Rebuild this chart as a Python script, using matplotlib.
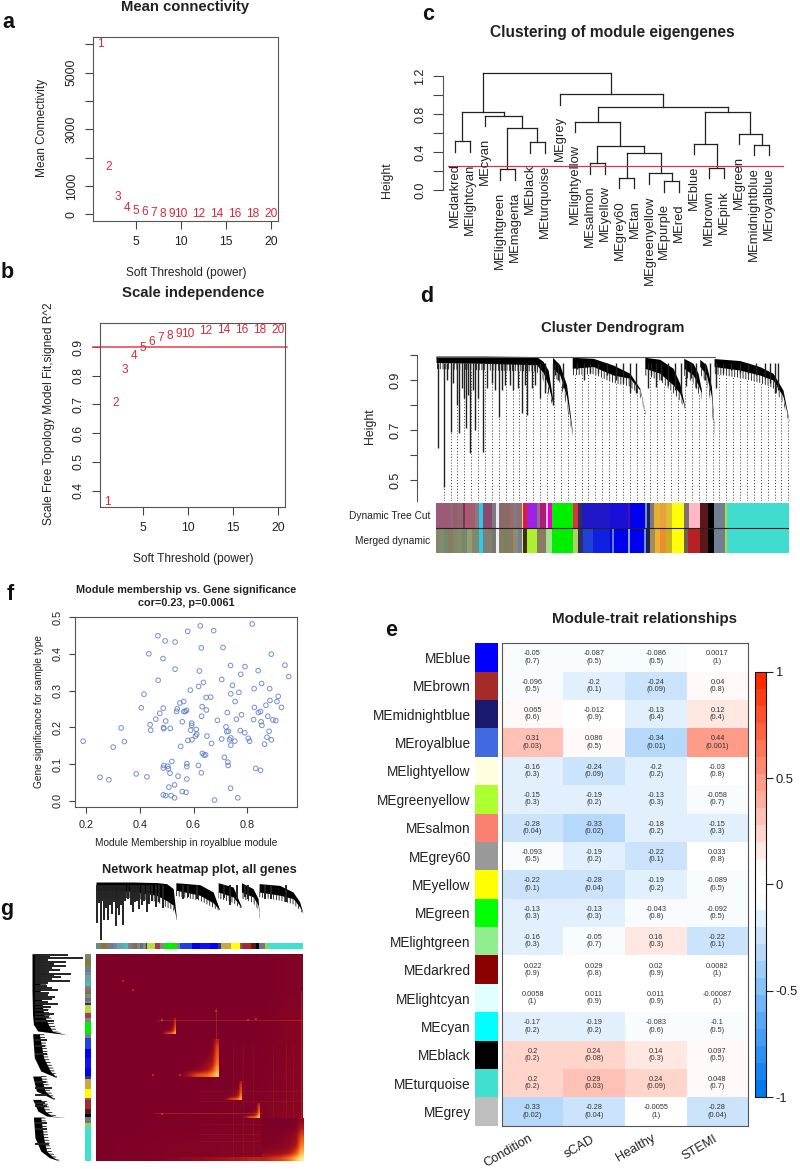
import matplotlib
matplotlib.use('Agg')
import matplotlib.pyplot as plt
import numpy as np
from matplotlib.colors import LinearSegmentedColormap, Normalize
from matplotlib.cm import ScalarMappable

plt.rcParams['font.family'] = ['Liberation Sans', 'DejaVu Sans']
plt.rcParams['text.color'] = '#222222'
plt.rcParams['axes.edgecolor'] = '#555555'
plt.rcParams['axes.labelcolor'] = '#222222'
plt.rcParams['xtick.color'] = '#444444'
plt.rcParams['ytick.color'] = '#444444'
plt.rcParams['xtick.labelcolor'] = '#222222'
plt.rcParams['ytick.labelcolor'] = '#222222'
plt.rcParams['hatch.linewidth'] = 0.6

W, H = 800, 1169

# panels a, b: soft threshold
powers = [1, 2, 3, 4, 5, 6, 7, 8, 9, 10, 12, 14, 16, 18, 20]
mean_conn = [6010, 1680, 600, 235, 130, 70, 35, 24, 12, 12, 5, 5, 5, 5, 5]
r2_fit = [0.36, 0.704, 0.82, 0.87, 0.898, 0.917, 0.932, 0.938, 0.946, 0.946,
          0.956, 0.959, 0.96, 0.958, 0.958]

# panel c: eigengene tree
me_leaves = ['MEdarkred', 'MElightcyan', 'MEcyan', 'MElightgreen', 'MEmagenta', 'MEblack',
             'MEturquoise', 'MEgrey', 'MElightyellow', 'MEsalmon', 'MEyellow', 'MEgrey60',
             'MEtan', 'MEgreenyellow', 'MEpurple', 'MEred', 'MEblue', 'MEbrown', 'MEpink',
             'MEgreen', 'MEmidnightblue', 'MEroyalblue']
# a merge refers to a leaf name or to an earlier merge by its index
me_merges = [('MEdarkred', 'MElightcyan', 0.514),   # 0
             ('MElightgreen', 'MEmagenta', 0.22),   # 1
             ('MEblack', 'MEturquoise', 0.504),     # 2
             (1, 2, 0.651),                         # 3
             ('MEcyan', 3, 0.784),                  # 4
             (0, 4, 0.819),                         # 5
             ('MEsalmon', 'MEyellow', 0.283),       # 6
             ('MEgrey60', 'MEtan', 0.129),          # 7
             ('MEpurple', 'MEred', 0.094),          # 8
             ('MEgreenyellow', 8, 0.178),           # 9
             (7, 9, 0.395),                         # 10
             (6, 10, 0.462),                        # 11
             ('MElightyellow', 11, 0.721),          # 12
             ('MEbrown', 'MEpink', 0.234),          # 13
             ('MEblue', 13, 0.49),                  # 14
             ('MEmidnightblue', 'MEroyalblue', 0.476),  # 15
             ('MEgreen', 15, 0.595),                # 16
             (14, 16, 0.819),                       # 17
             (12, 17, 0.871),                       # 18
             ('MEgrey', 18, 1.008),                 # 19
             (5, 19, 1.228)]                        # 20

# panel d: gene tree outline, rank / top / bottom of each black branch
d_rank = [[288, 430, 590, 610, 625, 640],
          [638, 660, 680, 698],
          [697, 760, 820, 870, 900, 917],
          [915, 960, 1000, 1020, 1035],
          [1032, 1060, 1075, 1085],
          [1080, 1100, 1115, 1125],
          [1123, 1200, 1260, 1300, 1330, 1348]]
d_top = [[0.997, 0.997, 0.995, 0.975, 0.94, 0.81],
         [0.992, 0.961, 0.881, 0.688],
         [0.992, 0.988, 0.961, 0.928, 0.868, 0.768],
         [0.992, 0.984, 0.948, 0.888, 0.795],
         [0.988, 0.968, 0.928, 0.861],
         [0.984, 0.961, 0.875, 0.675],
         [0.987, 0.979, 0.955, 0.928, 0.861, 0.739]]
d_bot = [[0.971, 0.968, 0.962, 0.93, 0.88, 0.80],
         [0.948, 0.921, 0.835, 0.681],
         [0.948, 0.955, 0.921, 0.908, 0.861, 0.765],
         [0.948, 0.928, 0.881, 0.848, 0.792],
         [0.948, 0.921, 0.881, 0.848],
         [0.955, 0.921, 0.835, 0.672],
         [0.955, 0.941, 0.921, 0.901, 0.835, 0.736]]
d_fringe = [[0.945, 0.94, 0.935, 0.90, 0.85, 0.79],
            [0.92, 0.89, 0.80, 0.675],
            [0.92, 0.925, 0.89, 0.875, 0.84, 0.76],
            [0.92, 0.90, 0.85, 0.82, 0.785],
            [0.92, 0.89, 0.85, 0.825],
            [0.925, 0.89, 0.80, 0.67],
            [0.925, 0.91, 0.89, 0.87, 0.81, 0.73]]
d_spike_rank = [293, 311, 333, 350, 358, 378, 391, 404, 428, 476, 547, 560, 600, 638, 733, 870,
                925, 950, 1040, 1130, 1305, 320, 340, 365, 372, 385, 398, 415, 440, 455, 465,
                485, 495, 510, 520, 535, 555, 575, 585, 615, 645, 655, 670, 710, 750, 775, 800,
                830, 850, 890, 935, 965, 985, 1005, 1025, 1055, 1070, 1095, 1110, 1150, 1175,
                1200, 1225, 1250, 1275, 1290, 1315]
d_spike_h = [0.63, 0.475, 0.695, 0.8, 0.688, 0.708, 0.608, 0.70, 0.615, 0.755, 0.768, 0.761,
             0.828, 0.80, 0.9, 0.848, 0.868, 0.875, 0.878, 0.868, 0.848, 0.90, 0.89, 0.87, 0.83,
             0.84, 0.86, 0.83, 0.87, 0.89, 0.86, 0.86, 0.88, 0.88, 0.86, 0.87, 0.88, 0.87, 0.88,
             0.85, 0.92, 0.90, 0.87, 0.945, 0.93, 0.93, 0.92, 0.90, 0.89, 0.85, 0.92, 0.90, 0.88,
             0.86, 0.85, 0.91, 0.87, 0.90, 0.86, 0.93, 0.94, 0.93, 0.925, 0.92, 0.91, 0.89, 0.86]

d_cut_edges = [288, 318, 330, 340, 354, 370, 376, 405, 418, 430, 455, 467, 477, 510, 520, 532, 545, 549, 560,
               590, 600, 618, 623, 637, 698, 713, 725, 810, 865, 872, 915, 922, 930, 942, 960, 978, 997,
               1032, 1048, 1080, 1105, 1123, 1155, 1163, 1348]
d_cut_colors = ['#9a5a78', '#a05a70', '#8a6a80', '#a05a70', '#8a6a70', '#8a2a60', '#a85a70', '#8a7a80', '#30c8e8',
                '#8a4a70', '#807880', '#e8e8f8', '#8a6a68', '#a06a60', '#807888', '#907070', '#e8d8b0', '#d82030',
                '#a020e8', '#8a7088', '#b0187a', '#e0c0e0', '#e800c8', '#00ee00', '#e03040', '#303050', '#2018c8',
                '#1810d8', '#5010a0', '#0000f0', '#7090e0', '#202050', '#807878', '#e8b030', '#e8a040', '#d8c030',
                '#ffff00', '#807070', '#ffb8c8', '#5a1818', '#000000', '#708090', '#b0d840', '#40dcd0']
d_merged_edges = [288, 300, 312, 325, 340, 352, 365, 380, 395, 418, 430, 445, 455, 467, 477, 490, 505, 520, 535,
                  545, 550, 560, 590, 618, 637, 698, 713, 730, 760, 810, 815, 822, 865, 872, 913, 920, 930, 945,
                  960, 980, 997, 1032, 1045, 1080, 1105, 1123, 1155, 1163, 1348]
d_merged_colors = ['#7c8a70', '#8a8a6a', '#708a70', '#8a7a60', '#7c8a70', '#8a8a6a', '#708a70', '#9a9a70', '#7c8a70',
                   '#30c8e8', '#7c8070', '#8a7a70', '#707a70', '#e8f0f8', '#8a7a60', '#7c8060', '#8a7a60', '#908a70',
                   '#70809a', '#e8e070', '#403010', '#adf030', '#8a7a60', '#a0e090', '#00ee00', '#b0d060', '#303060',
                   '#2040d8', '#1020e0', '#0000e0', '#6080e0', '#0000f0', '#90a8f0', '#0000f0', '#7090e0', '#202050',
                   '#a09058', '#f0b030', '#e89030', '#c8b020', '#ffff00', '#706050', '#b82028', '#5a1818', '#000000',
                   '#708090', '#b0d840', '#40dcd0']

# panel e: module-trait table, text as printed
e_modules = ['MEblue', 'MEbrown', 'MEmidnightblue', 'MEroyalblue', 'MElightyellow', 'MEgreenyellow',
             'MEsalmon', 'MEgrey60', 'MEyellow', 'MEgreen', 'MElightgreen', 'MEdarkred', 'MElightcyan',
             'MEcyan', 'MEblack', 'MEturquoise', 'MEgrey']
e_swatches = ['#0000ff', '#a52a2a', '#191970', '#4169e1', '#ffffe0', '#adff2f', '#fa8072', '#999999',
              '#ffff00', '#00ff00', '#90ee90', '#8b0000', '#e0ffff', '#00ffff', '#000000', '#40e0d0', '#bebebe']
e_traits = ['Condition', 'sCAD', 'Healthy', 'STEMI']
e_cor = [['-0.05', '-0.087', '-0.086', '0.0017'],
         ['-0.096', '-0.2', '-0.24', '0.04'],
         ['0.065', '-0.012', '-0.13', '0.12'],
         ['0.31', '0.086', '-0.34', '0.44'],
         ['-0.16', '-0.24', '-0.2', '-0.03'],
         ['-0.15', '-0.19', '-0.13', '-0.058'],
         ['-0.28', '-0.33', '-0.18', '-0.15'],
         ['-0.093', '-0.19', '-0.22', '0.033'],
         ['-0.22', '-0.28', '-0.19', '-0.089'],
         ['-0.13', '-0.13', '-0.043', '-0.092'],
         ['-0.16', '-0.05', '0.16', '-0.22'],
         ['0.022', '0.029', '0.02', '0.0082'],
         ['0.0058', '0.011', '0.011', '-0.00087'],
         ['-0.17', '-0.19', '-0.083', '-0.1'],
         ['0.2', '0.24', '0.14', '0.097'],
         ['0.2', '0.29', '0.24', '0.048'],
         ['-0.33', '-0.28', '-0.0055', '-0.28']]
e_p = [['0.7', '0.5', '0.5', '1'],
       ['0.5', '0.1', '0.09', '0.8'],
       ['0.6', '0.9', '0.4', '0.4'],
       ['0.03', '0.5', '0.01', '0.001'],
       ['0.3', '0.09', '0.2', '0.8'],
       ['0.3', '0.2', '0.3', '0.7'],
       ['0.04', '0.02', '0.2', '0.3'],
       ['0.5', '0.2', '0.1', '0.8'],
       ['0.1', '0.04', '0.2', '0.5'],
       ['0.3', '0.3', '0.8', '0.5'],
       ['0.3', '0.7', '0.3', '0.1'],
       ['0.9', '0.8', '0.9', '1'],
       ['1', '0.9', '0.9', '1'],
       ['0.2', '0.2', '0.6', '0.5'],
       ['0.2', '0.08', '0.3', '0.5'],
       ['0.2', '0.03', '0.09', '0.7'],
       ['0.02', '0.04', '1', '0.04']]

# panel f: membership vs significance
mm_x = [.188, .30, .342, .33, .251, .284, .386, .426, .415, .405, .433, .467, .494, .531, .578, .625, .675,
        .819, .629, .71, .89, .486, .531, .468, .622, .941, .955, .738, .792, .776, .841, .705, .745, .854,
        .884, .826, .637, .619, .588, .739, .769, .647, .664, .916, .885, .911, .87, .928, .755, .827, .549,
        .563, .487, .539, .537, .564, .574, .569, .474, .632, .648, .63, .726, .779, .76, .842, .85, .877,
        .824, .896, .907, .852, .855, .689, .459, .496, .558, .593, .593, .438, .44, .488, .489, .513, .589,
        .61, .721, .73, .724, .774, .791, .882, .874, .89, .804, .809, .865, .612, .607, .65, .594, .579,
        .667, .705, .739, .734, .754, .739, .552, .633, .639, .645, .715, .728, .729, .519, .489, .504, .487,
        .506, .512, .575, .575, .618, .542, .629, .575, .832, .85, .508, .529, .558, .572, .487, .496, .516,
        .529, .738, .765, .678]
gs_y = [.162, .146, .161, .198, .064, .057, .073, .065, .29, .253, .40, .449, .435, .432, .461, .476, .463,
        .481, .416, .417, .399, .387, .358, .328, .353, .369, .338, .368, .365, .344, .354, .33, .314, .319,
        .305, .305, .322, .311, .301, .291, .295, .281, .282, .284, .273, .27, .26, .254, .27, .254, .266,
        .27, .252, .25, .243, .243, .246, .243, .238, .256, .247, .23, .24, .234, .222, .24, .243, .23,
        .221, .22, .218, .215, .205, .219, .222, .217, .215, .211, .205, .207, .192, .199, .196, .197, .192,
        .194, .201, .189, .188, .191, .185, .189, .173, .166, .17, .162, .154, .181, .176, .176, .166, .164,
        .156, .168, .171, .166, .162, .151, .148, .129, .124, .125, .118, .105, .096, .107, .096, .094, .089,
        .087, .075, .101, .093, .096, .067, .076, .059, .088, .083, .037, .043, .025, .023, .016, .014, .014,
        .008, .034, .008, .002]

# panel g: tree shared by the top and left margins
g_rank = [[288, 400, 470, 500, 520, 530],
          [528, 600, 640, 660],
          [655, 700, 725],
          [725, 760, 775, 780],
          [778, 840, 880, 900, 910]]
g_top = [[1.0, 1.0, 0.995, 0.986, 0.943, 0.68],
         [0.994, 0.977, 0.914, 0.757],
         [0.994, 0.957, 0.786],
         [0.994, 0.943, 0.857, 0.671],
         [0.986, 0.971, 0.914, 0.829, 0.729]]
g_bot = [[0.929, 0.92, 0.885, 0.84, 0.80, 0.675],
         [0.929, 0.886, 0.82, 0.757],
         [0.914, 0.871, 0.78],
         [0.914, 0.871, 0.80, 0.671],
         [0.914, 0.886, 0.857, 0.786, 0.729]]
g_fringe = [[0.87, 0.86, 0.83, 0.78, 0.76, 0.67],
            [0.88, 0.84, 0.78, 0.75],
            [0.86, 0.82, 0.77],
            [0.86, 0.82, 0.76, 0.67],
            [0.87, 0.84, 0.81, 0.76, 0.725]]
g_spike_rank = [292, 302, 312, 325, 337, 348, 358, 370, 398, 418, 440, 468, 490, 297, 307, 318, 331, 343,
                352, 364, 376, 384, 392, 405, 412, 425, 432, 448, 456, 478, 548, 565, 590, 672, 690, 712,
                735, 745, 795, 815, 860]
g_spike_h = [0.643, 0.5, 0.669, 0.669, 0.726, 0.617, 0.714, 0.629, 0.743, 0.771, 0.743, 0.786, 0.78, 0.82,
             0.84, 0.78, 0.80, 0.83, 0.78, 0.80, 0.84, 0.85, 0.80, 0.83, 0.84, 0.80, 0.84, 0.81, 0.84, 0.83,
             0.85, 0.87, 0.85, 0.86, 0.80, 0.85, 0.87, 0.85, 0.85, 0.85, 0.83]
g_strip_edges = [288, 296, 304, 312, 322, 330, 342, 352, 362, 372, 385, 392, 402, 410, 420, 430, 437, 442, 465,
                 480, 492, 530, 540, 575, 600, 630, 655, 665, 695, 722, 728, 755, 768, 778, 795, 805, 910]
g_strip_colors = ['#6a8a8a', '#8a8060', '#7a7a50', '#8a7a30', '#808070', '#6a80a0', '#708aa0', '#70a0a8', '#60a8b0',
                  '#50b8c0', '#808080', '#8a7060', '#6a7080', '#8a8a60', '#6a6a90', '#8a8a70', '#303060', '#b0e040',
                  '#a04050', '#888880', '#00ee00', '#708888', '#2040e0', '#0000ee', '#1010f0', '#0000ff', '#333388',
                  '#c8a840', '#ffff00', '#806060', '#a52a2a', '#5a1a1a', '#000000', '#6a7a8a', '#a8d030', '#40e0d0']
# coarse background of the overlap map, rows top to bottom
tom_base = [[0, 0, 0, 0, 0, 0, 0, 0.03],
            [0, 0, 0, 0, 0, 0, 0, 0.03],
            [0, 0, 0, 0, 0, 0, 0.01, 0.05],
            [0, 0, 0, 0, 0, 0, 0.01, 0.05],
            [0, 0, 0, 0, 0, 0.01, 0.02, 0.06],
            [0, 0, 0.01, 0, 0, 0.02, 0.03, 0.06],
            [0, 0, 0.01, 0.01, 0.02, 0.03, 0.04, 0.08],
            [0.01, 0.02, 0.03, 0.04, 0.04, 0.05, 0.06, 0.1]]
tom_bottom = [[0.0, 0.02, 0.05, 0.08, 0.1, 0.15, 0.2, 0.25, 0.3]]
# module block, rows top to bottom, strongest towards the bottom right corner
tom_block = [[0, 0, 0, 0, 0, 0, .02, .32],
             [0, 0, 0, 0, 0, 0, .05, .45],
             [0, 0, 0, 0, 0, .02, .08, .5],
             [0, 0, 0, 0, .02, .05, .15, .55],
             [0, 0, 0, .02, .05, .1, .2, .6],
             [0, 0, .02, .05, .08, .15, .3, .68],
             [0, .03, .06, .1, .15, .25, .45, .8],
             [.1, .25, .4, .5, .55, .6, .75, .95]]
tom_corner = [[0, 0, 0, 0, 0, 0, .03, .1],
              [0, 0, 0, 0, .01, .02, .05, .2],
              [.01, .01, .01, .02, .03, .05, .1, .35],
              [.02, .02, .03, .03, .05, .08, .15, .5],
              [.03, .03, .04, .05, .08, .1, .2, .6],
              [.04, .05, .06, .08, .1, .15, .3, .7],
              [.08, .1, .12, .15, .2, .3, .5, .85],
              [.3, .35, .4, .45, .55, .65, .85, 1.0]]
block_x0 = [487, 550, 672, 730]
block_x1 = [528, 657, 725, 780]
block_y0 = [484, 544, 670, 737]
block_y1 = [530, 657, 726, 782]
block_peak = [0.85, 0.95, 0.85, 0.95]
tom_hlines = [487, 767, 700, 730, 800, 830, 850]
tom_hline_x0 = [470, 465, 600, 600, 600, 600, 600]
tom_hline_x1 = [910, 785, 910, 910, 780, 780, 780]
tom_hline_a = [0.3, 0.3, 0.1, 0.1, 0.1, 0.1, 0.1]
tom_vlines = [650, 905, 700, 730, 760, 820, 860, 880]
tom_vline_y0 = [450, 400, 560, 560, 560, 560, 560, 560]
tom_vline_y1 = [545, 780, 909, 909, 909, 780, 780, 780]
tom_vline_a = [0.3, 0.3, 0.1, 0.1, 0.1, 0.1, 0.1, 0.1]
spot_x = [368, 398, 650, 487, 460, 485, 745, 770, 540]
spot_y = [370, 397, 459, 487, 652, 770, 487, 484, 652]


def ax_px(x0, y0, x1, y1):
    return fig.add_axes([x0 / W, 1 - y1 / H, (x1 - x0) / W, (y1 - y0) / H])


def text_px(x, y, s, **kw):
    kw.setdefault('ha', 'center')
    kw.setdefault('va', 'center')
    return fig.text(x / W, 1 - y / H, s, **kw)


def threshold_panel(ax, values, xlim, ylim):
    for p, v in zip(powers, values):
        ax.text(p, v, str(p), color='#d42a3a', fontsize=8.6, ha='center', va='center')
    ax.set_xlim(xlim)
    ax.set_ylim(ylim)
    ax.set_xticks([5, 10, 15, 20])
    ax.tick_params(axis='x', length=6, width=0.8, pad=5, labelsize=8.8)
    ax.tick_params(axis='y', length=6, width=0.8, pad=5, labelsize=8.8)
    plt.setp(ax.get_yticklabels(), rotation=90, va='center')


def gene_tree(ax, ranks, tops, bots, fringe, spike_rank, spike_h, lw):
    # the hatch stands in for the fine hair under the solid branches
    for r, f, b in zip(ranks, fringe, bots):
        ax.fill_between(r, f, b, facecolor='none', edgecolor='#111111', hatch='||||||', lw=0)
    for r, t, b in zip(ranks, tops, bots):
        ax.fill_between(r, b, t, color='black', lw=0)
    ax.vlines(spike_rank, spike_h, 0.97, color='#222222', lw=lw)


def strip(ax, edges, colors, y0=0, y1=1, vertical=False):
    for a, b, c in zip(edges[:-1], edges[1:], colors):
        if vertical:
            ax.fill_between([y0, y1], a, b, color=c, lw=0)
        else:
            ax.fill_between([a, b], y0, y1, color=c, lw=0)


fig = plt.figure(figsize=(W / 100, H / 100), dpi=100)

# panel letters
for x, y, s in [(8, 23, 'a'), (7, 273, 'b'), (428, 15, 'c'), (427, 297, 'd'),
                (391, 631, 'e'), (10, 594, 'f'), (7, 910, 'g')]:
    text_px(x, y, s, fontsize=15.5, fontweight='bold', color='#111111')

# a
ax = ax_px(93, 37, 278, 221)
threshold_panel(ax, mean_conn, (0.22, 20.78), (-237, 6260))
ax.set_yticks([0, 1000, 2000, 3000, 4000, 5000, 6000])
ax.set_yticklabels(['0', '1000', '', '3000', '', '5000', ''])
text_px(185, 7, 'Mean connectivity', fontsize=10.7, fontweight='bold')
text_px(186, 273, 'Soft Threshold (power)', fontsize=8.6)
text_px(42, 128, 'Mean Connectivity', fontsize=8.6, rotation=90)

# b
ax = ax_px(100, 323, 285, 507)
threshold_panel(ax, r2_fit, (0.22, 20.78), (0.343, 0.9835))
ax.set_yticks([0.4, 0.5, 0.6, 0.7, 0.8, 0.9])
ax.axhline(0.9, xmin=-0.04, xmax=1.01, color='#e8404a', lw=1.1, clip_on=False)
text_px(193, 293, 'Scale independence', fontsize=10.7, fontweight='bold')
text_px(193, 559, 'Soft Threshold (power)', fontsize=8.6)
text_px(49, 414, 'Scale Free Topology Model Fit,signed R^2', fontsize=8.6, rotation=90)

# c
ax = ax_px(443, 76, 790, 190.3)
ax.set_xlim(-0.8, 22.4)
ax.set_ylim(0, 1.2)
ax.patch.set_alpha(0)
for s in ['top', 'right', 'bottom']:
    ax.spines[s].set_visible(False)
ax.set_xticks([])
ax.set_yticks([0, 0.2, 0.4, 0.6, 0.8, 1.0, 1.2])
ax.set_yticklabels(['0.0', '', '0.4', '', '0.8', '', '1.2'])
ax.tick_params(axis='y', length=7, width=0.8, pad=5, labelsize=9)
plt.setp(ax.get_yticklabels(), rotation=90, va='center')
me_pos = {name: i for i, name in enumerate(me_leaves)}
nodes = []
hang = 0.11
for a, b, h in me_merges:
    xs = []
    for child in (a, b):
        if isinstance(child, str):
            cx, ch = me_pos[child], h - hang
            ax.text(cx, ch - 0.12, child, rotation=90, ha='center', va='top', fontsize=9.4, clip_on=False)
        else:
            cx, ch = nodes[child]
        ax.plot([cx, cx], [h, ch], color='#222222', lw=0.9, clip_on=False)
        xs.append(cx)
    ax.plot(xs, [h, h], color='#222222', lw=0.9, clip_on=False)
    nodes.append((sum(xs) / 2, h))
ax.plot([-0.47, 21.9], [0.252, 0.252], color='#cc3a4a', lw=0.9, clip_on=False)
text_px(612, 33, 'Clustering of module eigengenes', fontsize=11.2, fontweight='bold')
text_px(387, 180, 'Height', fontsize=8.8, rotation=90)

# d
ax = ax_px(436, 355.3, 789, 501)
ax.set_xlim(288, 1348)
ax.set_ylim(0.417, 1.0)
for s in ['top', 'right', 'bottom']:
    ax.spines[s].set_visible(False)
ax.spines['left'].set_position(('outward', 14))
all_rank = [r for part in d_rank for r in part]
all_low = [b for part in d_fringe for b in part]
guide_x = np.arange(311, 1349, 20.7)
ax.vlines(guide_x, 0.417, np.interp(guide_x, all_rank, all_low), color='#333333', lw=0.7, linestyles=(0, (1, 2)))
gene_tree(ax, d_rank, d_top, d_bot, d_fringe, d_spike_rank, d_spike_h, 1.0)
ax.plot([288, 1125], [0.995, 0.995], color='#555555', lw=0.8)
ax.set_xticks([])
ax.set_yticks([0.5, 0.6, 0.7, 0.8, 0.9, 1.0])
ax.set_yticklabels(['0.5', '', '0.7', '', '0.9', ''])
ax.tick_params(axis='y', length=5, width=0.8, pad=6, labelsize=9)
plt.setp(ax.get_yticklabels(), rotation=90, va='center')
text_px(613, 328, 'Cluster Dendrogram', fontsize=10.7, fontweight='bold')
text_px(370, 426, 'Height', fontsize=8.8, rotation=90)

ax = ax_px(436, 502.7, 789, 553.3)
ax.set_xlim(288, 1348)
ax.set_ylim(0, 2)
strip(ax, d_cut_edges, d_cut_colors, 1, 2)
strip(ax, d_merged_edges, d_merged_colors, 0, 1)
ax.axhline(1, color='#222222', lw=0.8)
ax.set_xticks([])
ax.set_yticks([])
for s in ax.spines.values():
    s.set_visible(False)
text_px(430, 516, 'Dynamic Tree Cut', fontsize=7.3, ha='right')
text_px(430, 541, 'Merged dynamic', fontsize=7.3, ha='right')

# e
cmap = LinearSegmentedColormap.from_list('bwr_wgcna', [(0, '#0078f0'), (0.47, '#ffffff'), (0.53, '#ffffff'),
                                                       (1, '#ff2a00')], N=25)
norm = Normalize(-1, 1)
cor = np.array([[float(v) for v in row] for row in e_cor])
ax = ax_px(501.7, 643.3, 748.3, 1125.7)
ax.pcolormesh(np.arange(5), np.arange(18), cor, cmap=cmap, norm=norm)
ax.set_xlim(0, 4)
ax.set_ylim(17, 0)
ax.set_xticks([])
ax.set_yticks([])
for i in range(len(e_modules)):
    for j in range(len(e_traits)):
        ax.text(j + 0.5, i + 0.5, e_cor[i][j] + '\n(' + e_p[i][j] + ')', fontsize=5.3, ha='center', va='center',
                linespacing=1.05, color='#333333')
ax = ax_px(475, 643.3, 498, 1125.7)
ax.barh(np.arange(len(e_modules)) + 0.5, 1, height=1, color=e_swatches)
ax.set_xlim(0, 1)
ax.set_ylim(17, 0)
ax.set_yticks(np.arange(len(e_modules)) + 0.5)
ax.set_yticklabels(e_modules, fontsize=9.8)
ax.set_xticks([])
ax.tick_params(axis='y', length=0, pad=3)
for s in ax.spines.values():
    s.set_visible(False)
text_px(644, 619, 'Module-trait relationships', fontsize=10.9, fontweight='bold')
for x, y, s in zip([508.7, 579, 635.5, 699.7], [1151, 1147, 1148, 1148], e_traits):
    text_px(x, y, s, fontsize=9.2, rotation=30)

cax = ax_px(755, 671.7, 765.7, 1097)
cb = fig.colorbar(ScalarMappable(norm=norm, cmap=cmap), cax=cax)
cb.set_ticks([-1, -0.5, 0, 0.5, 1])
cb.set_ticklabels(['-1', '-0.5', '0', '0.5', '1'])
cb.ax.tick_params(length=5, width=0.8, labelsize=9.4, pad=2, color='#222222')
cb.outline.set_edgecolor('#111111')

# f
ax = ax_px(75, 617, 297, 807)
ax.scatter(mm_x, gs_y, s=11, facecolors='none', edgecolors='#5b7cc8', linewidths=0.7, alpha=0.85)
ax.set_xlim(0.1576, 0.986)
ax.set_ylim(-0.017, 0.5)
ax.set_xticks([0.2, 0.4, 0.6, 0.8])
ax.set_yticks([0, 0.1, 0.2, 0.3, 0.4, 0.5])
ax.set_yticklabels(['0.0', '0.1', '0.2', '0.3', '0.4', '0.5'])
ax.tick_params(length=4, width=0.8, pad=5, labelsize=7.8)
plt.setp(ax.get_yticklabels(), rotation=90, va='center')
text_px(186, 590, 'Module membership vs. Gene significance', fontsize=7.8, fontweight='bold')
text_px(186, 603, 'cor=0.23, p=0.0061', fontsize=7.8, fontweight='bold')
text_px(186, 843, 'Module Membership in royalblue module', fontsize=7.3)
text_px(39, 712, 'Gene significance for sample type', fontsize=7.3, rotation=90)

# g
text_px(199, 870, 'Network heatmap plot, all genes', fontsize=9.2, fontweight='bold')
ax = ax_px(96, 882, 303, 940)
ax.set_xlim(288, 910)
ax.set_ylim(0.5, 1)
gene_tree(ax, g_rank, g_top, g_bot, g_fringe, g_spike_rank, g_spike_h, 1.4)
ax.axis('off')

ax = ax_px(96, 943, 303, 949)
ax.set_xlim(288, 910)
ax.set_ylim(0, 1)
strip(ax, g_strip_edges, g_strip_colors)
ax.axis('off')

ax = ax_px(85, 953.7, 91, 1160.7)
ax.set_xlim(0, 1)
ax.set_ylim(909, 288)
strip(ax, g_strip_edges, g_strip_colors, vertical=True)
ax.axis('off')

ax = ax_px(32, 953.7, 83, 1160.7)
ax.set_xlim(1, 0.5)
ax.set_ylim(909, 288)
for r, f, b in zip(g_rank, g_fringe, g_bot):
    ax.fill_betweenx(r, f, b, facecolor='none', edgecolor='#111111', hatch='------', lw=0)
for r, t, b in zip(g_rank, g_top, g_bot):
    ax.fill_betweenx(r, t, b, color='black', lw=0)
ax.hlines(g_spike_rank, g_spike_h, 0.97, color='#222222', lw=1.4)
ax.axis('off')

tom_cmap = LinearSegmentedColormap.from_list('tom', ['#7c0028', '#b01818', '#e85018', '#ffa028', '#ffe8a0'])
ax = ax_px(96, 953.7, 303, 1160.7)
ax.imshow(tom_base, extent=(288, 910, 909, 288), cmap=tom_cmap, vmin=0, vmax=1, aspect='auto',
          interpolation='bilinear')
block = np.array(tom_block)
for x0, x1, y0, y1, peak in zip(block_x0, block_x1, block_y0, block_y1, block_peak):
    ax.imshow(block * peak, extent=(x0, x1, y1, y0), cmap=tom_cmap, vmin=0, vmax=1, aspect='auto',
              interpolation='bilinear')
ax.imshow(tom_bottom, extent=(400, 786, 909, 899), cmap=tom_cmap, vmin=0, vmax=1, aspect='auto',
          interpolation='bilinear')
ax.imshow(tom_corner, extent=(786, 910, 909, 782), cmap=tom_cmap, vmin=0, vmax=1, aspect='auto',
          interpolation='bilinear')
for y, x0, x1, a in zip(tom_hlines, tom_hline_x0, tom_hline_x1, tom_hline_a):
    ax.plot([x0, x1], [y, y], color='#e8641a', lw=0.7, alpha=a)
for x, y0, y1, a in zip(tom_vlines, tom_vline_y0, tom_vline_y1, tom_vline_a):
    ax.plot([x, x], [y0, y1], color='#e8641a', lw=0.7, alpha=a)
ax.scatter(spot_x, spot_y, s=3, color='#e8641a', alpha=0.5, marker='s', lw=0)
ax.set_xlim(288, 910)
ax.set_ylim(909, 288)
ax.axis('off')

fig.savefig('out.png', dpi=100)
